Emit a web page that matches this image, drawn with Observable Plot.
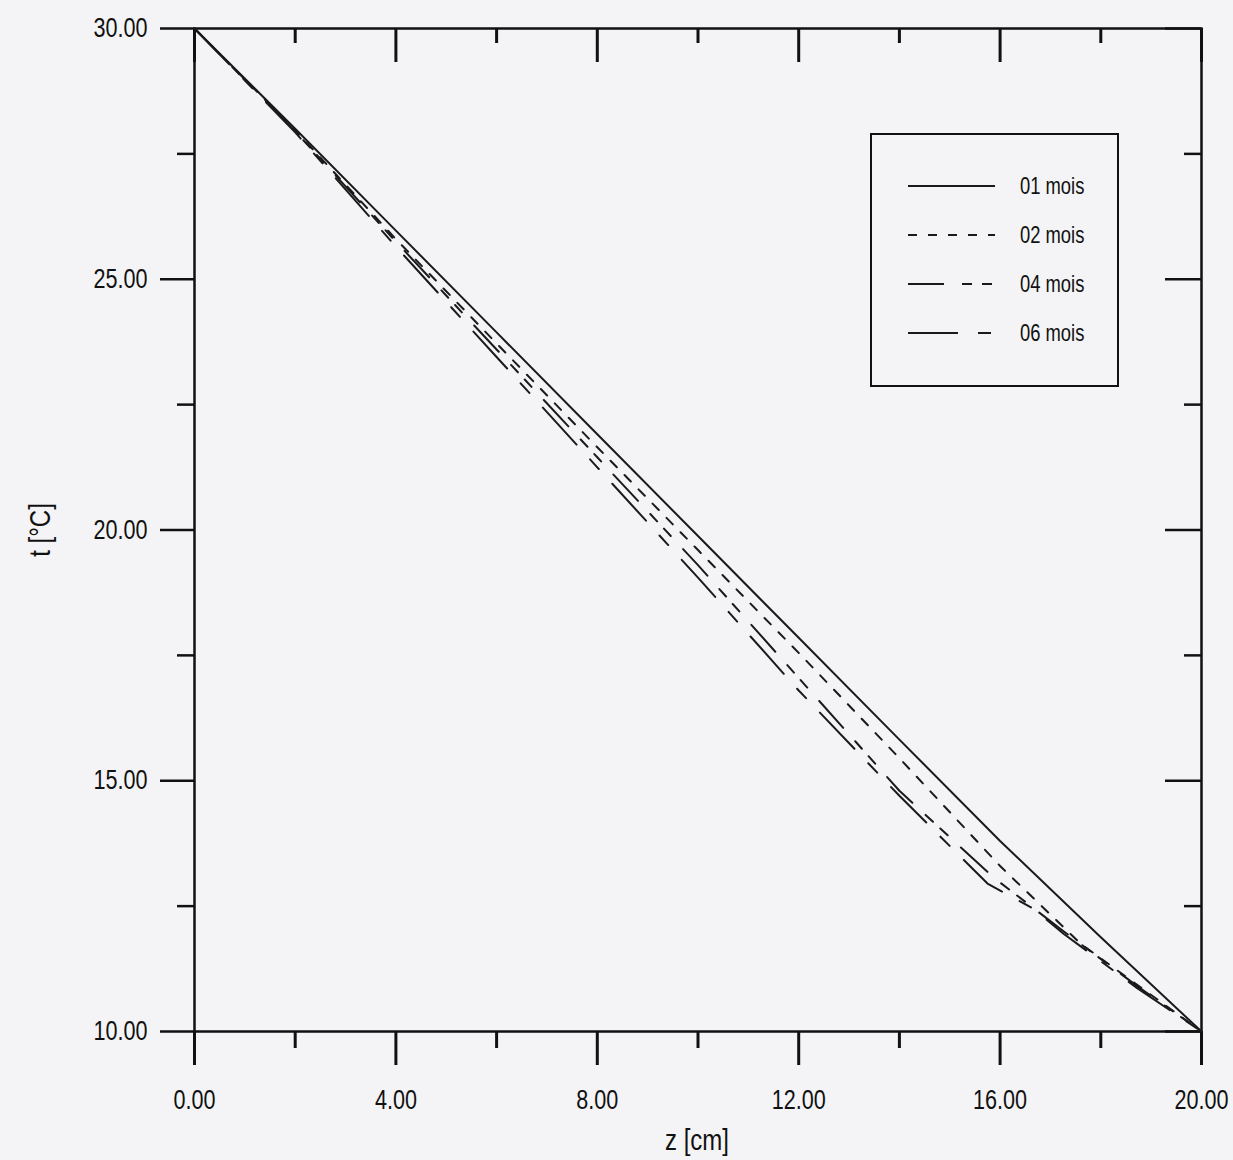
<!DOCTYPE html>
<html>
<head>
<meta charset="utf-8">
<script src="https://cdn.jsdelivr.net/npm/d3@7"></script>
<script src="https://cdn.jsdelivr.net/npm/@observablehq/plot@0.6"></script>
<style>
  html, body { margin: 0; padding: 0; background: #f4f4f6; }
  #wrap { position: relative; width: 1233px; height: 1160px; font-family: "Liberation Sans", Arial, sans-serif; color: #111; }
  #legend { position: absolute; left: 870px; top: 133px; width: 245px; height: 250px; border: 2px solid #111; box-sizing: content-box; }
  .ttl { position: absolute; font-size: 30px; white-space: nowrap; }
</style>
</head>
<body>
<div id="wrap"></div>
<script>
// ---- data ----
const z01 = [0, 2, 4, 6, 8, 10, 12, 14, 16, 18, 20];
const t01 = [30, 28.0, 25.97, 23.94, 21.91, 19.88, 17.85, 15.82, 13.8, 11.88, 10];

const z02 = [0, 2, 4, 6, 8, 10, 12, 14, 16, 17.6, 20];
const t02 = [30, 27.97, 25.8, 23.72, 21.65, 19.6, 17.55, 15.45, 13.3, 11.75, 10];

const z04 = [0, 2, 4, 6, 8, 10, 12, 14, 15.87, 17.26, 18.73, 20];
const t04 = [30, 27.95, 25.75, 23.6, 21.45, 19.3, 17.05, 14.8, 13.07, 12.0, 10.9, 10];

const z06 = [0, 2, 4, 6, 8, 10, 12, 14, 15.75, 16.66, 17.26, 18.73, 20];
const t06 = [30, 27.93, 25.65, 23.45, 21.25, 19.05, 16.8, 14.7, 12.95, 12.45, 11.95, 10.86, 10];

const seriesNames = ["01 mois", "02 mois", "04 mois", "06 mois"];
const dashes = [null, "9,11", "36,18,10,10,10,18", "50,20,13,20"];

const xMajor = [0, 4, 8, 12, 16, 20];
const xMinor = [2, 6, 10, 14, 18];
const yMajor = [10, 15, 20, 25, 30];
const yMinor = [12.5, 17.5, 22.5, 27.5];

const xTitle = "z [cm]";
const yTitle = "t [°C]";

// ---- build ----
const rows = (zs, ts) => zs.map((z, i) => ({z, t: ts[i]}));
const series = [rows(z01, t01), rows(z02, t02), rows(z04, t04), rows(z06, t06)];

const ink = "#111";
const font = '"Liberation Sans", Arial, sans-serif';
const narrow = 0.8;
const fmt = d => d.toFixed(2);
const blank = () => "";

const chart = Plot.plot({
  width: 1233,
  height: 1160,
  marginLeft: 194,
  marginRight: 32,
  marginTop: 28,
  marginBottom: 129,
  x: {domain: [0, 20]},
  y: {domain: [10, 30]},
  style: {background: "transparent", fontFamily: font, fontSize: "27px", color: ink, overflow: "visible"},
  marks: [
    // bottom axis (outward)
    Plot.axisX(xMajor, {anchor: "bottom", tickSize: 34, tickPadding: 24, tickFormat: fmt, stroke: ink, strokeWidth: 3, label: null}),
    Plot.axisX(xMinor, {anchor: "bottom", tickSize: 17, tickFormat: blank, stroke: ink, strokeWidth: 3, label: null}),
    // top axis (inward)
    Plot.axisX(xMajor, {anchor: "bottom", frameAnchor: "top", tickSize: 34, tickFormat: blank, stroke: ink, strokeWidth: 3, label: null}),
    Plot.axisX(xMinor, {anchor: "bottom", frameAnchor: "top", tickSize: 15, tickFormat: blank, stroke: ink, strokeWidth: 3, label: null}),
    // left axis (outward)
    Plot.axisY(yMajor, {anchor: "left", tickSize: 34, tickPadding: 13, tickFormat: fmt, stroke: ink, strokeWidth: 2.5, label: null}),
    Plot.axisY(yMinor, {anchor: "left", tickSize: 17, tickFormat: blank, stroke: ink, strokeWidth: 2.5, label: null}),
    // right axis (inward)
    Plot.axisY(yMajor, {anchor: "left", frameAnchor: "right", tickSize: 36, tickFormat: blank, stroke: ink, strokeWidth: 2.5, label: null}),
    Plot.axisY(yMinor, {anchor: "left", frameAnchor: "right", tickSize: 17, tickFormat: blank, stroke: ink, strokeWidth: 2.5, label: null}),
    Plot.frame({stroke: ink, strokeWidth: 2.5}),
    ...series.map((d, i) => Plot.line(d, {x: "z", y: "t", stroke: "#1a1a1a", strokeWidth: 2, strokeDasharray: dashes[i]}))
  ]
});

// narrow the glyphs horizontally around each text's own anchor (only x matters)
function condense(root) {
  root.querySelectorAll("text").forEach(t => {
    let x = parseFloat(t.getAttribute("x"));
    const xs = t.getAttribute("x") || "";
    if (!isFinite(x) || /em/.test(xs)) x = 0;
    const tr = t.getAttribute("transform") || "";
    t.setAttribute("transform", `${tr} translate(${x},0) scale(${narrow},1) translate(${-x},0)`.trim());
  });
}
condense(chart);

const wrap = document.getElementById("wrap");
wrap.appendChild(chart);

// axis titles
const xt = document.createElement("div");
xt.className = "ttl";
xt.textContent = xTitle;
xt.style.left = "697px";
xt.style.top = "1140px";
xt.style.transform = `translate(-50%, -50%) scale(${narrow}, 1)`;
wrap.appendChild(xt);

const yt = document.createElement("div");
yt.className = "ttl";
yt.textContent = yTitle;
yt.style.left = "40px";
yt.style.top = "530px";
yt.style.transform = `translate(-50%, -50%) rotate(-90deg) scale(${narrow}, 1)`;
wrap.appendChild(yt);

// legend
const lg = document.createElement("div");
lg.id = "legend";
const ns = "http://www.w3.org/2000/svg";
const lsvg = document.createElementNS(ns, "svg");
lsvg.setAttribute("width", 245);
lsvg.setAttribute("height", 250);
lsvg.style.overflow = "visible";
seriesNames.forEach((name, i) => {
  const y = 51 + i * 49;
  const ln = document.createElementNS(ns, "line");
  ln.setAttribute("x1", 36); ln.setAttribute("x2", 123);
  ln.setAttribute("y1", y); ln.setAttribute("y2", y);
  ln.setAttribute("stroke", "#1a1a1a");
  ln.setAttribute("stroke-width", 2);
  if (dashes[i]) ln.setAttribute("stroke-dasharray", dashes[i]);
  lsvg.appendChild(ln);
  const tx = document.createElementNS(ns, "text");
  tx.setAttribute("x", 148); tx.setAttribute("y", y);
  tx.setAttribute("dy", "0.35em");
  tx.setAttribute("font-size", 23);
  tx.setAttribute("fill", ink);
  tx.setAttribute("font-family", font);
  tx.textContent = name;
  lsvg.appendChild(tx);
});
condense(lsvg);
lg.appendChild(lsvg);
wrap.appendChild(lg);
</script>
</body>
</html>
